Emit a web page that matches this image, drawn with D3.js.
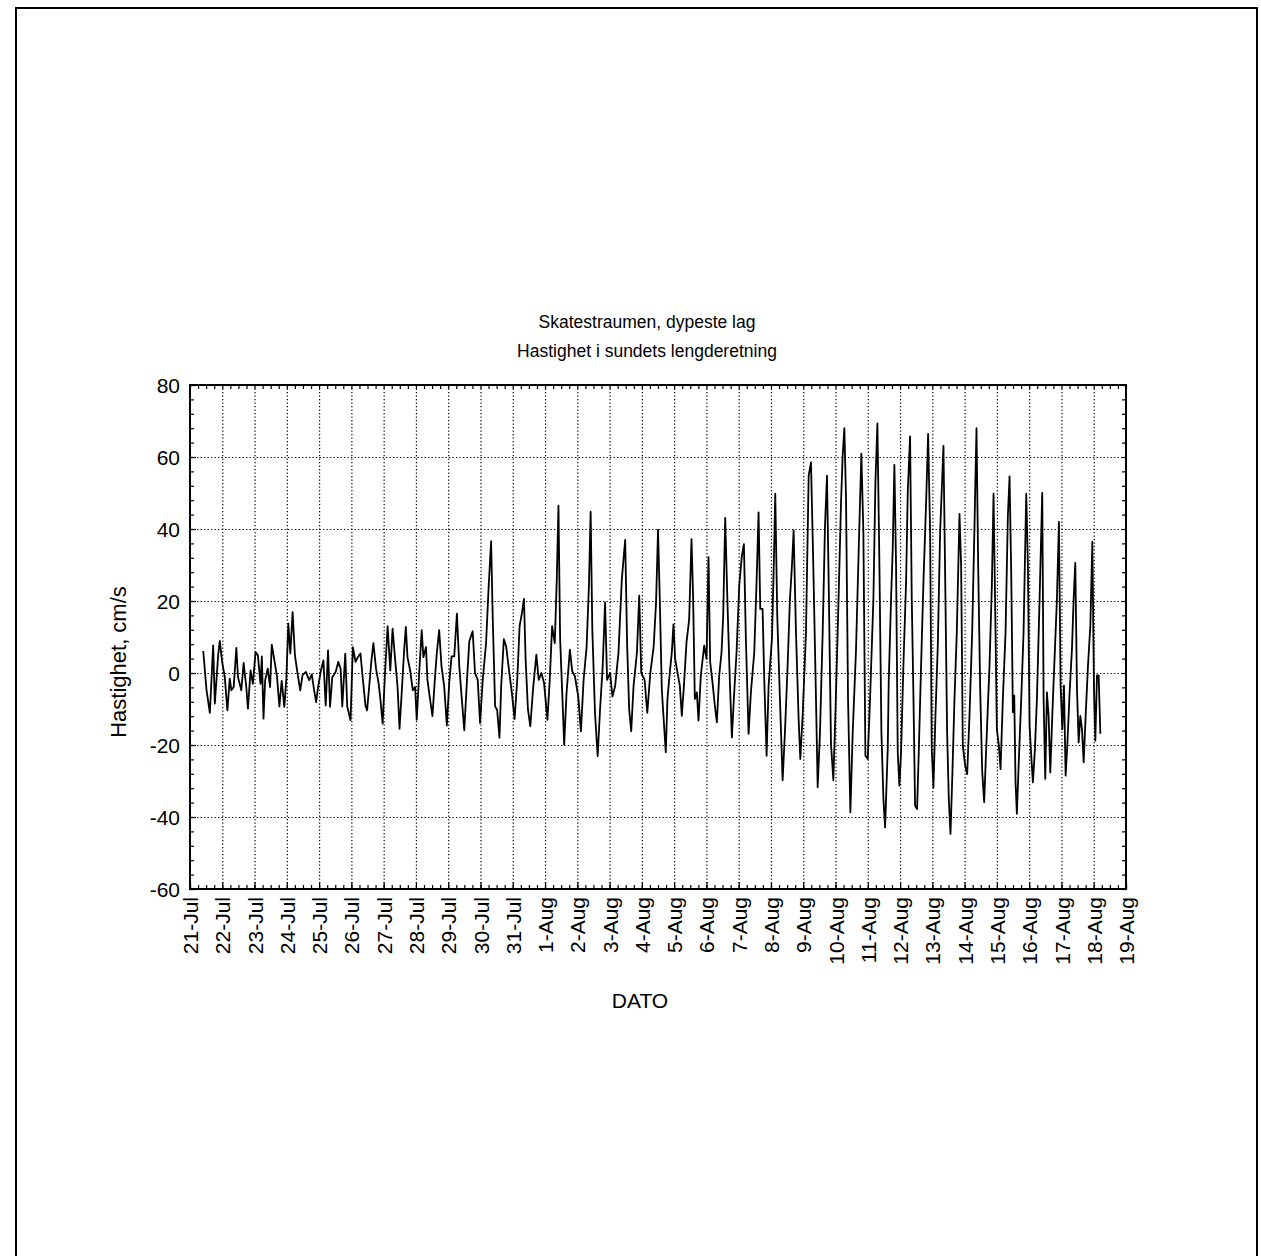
<!DOCTYPE html>
<html lang="no">
<head>
<meta charset="UTF-8">
<title>Skatestraumen</title>
<script src="https://d3js.org/d3.v7.min.js"></script>
<style>
  body { margin: 0; background: #fff; }
  svg { display: block; font-family: "Liberation Sans", Arial, sans-serif; }
  .grid line { stroke: #000; stroke-width: 1.2; stroke-dasharray: 1.3 2.2; }
  .grid path { display: none; }
  .minor path { display: none; }
  .minor line, .major line { stroke: #000; stroke-width: 1.2; }
  .major path { display: none; }
  .major text { font-size: 21px; fill: #000; }
</style>
</head>
<body>
<script>
// dager etter 21-Jul kl 00 og hastighet (cm/s)
var tid = [0.410,0.513,0.615,0.718,0.769,0.872,0.923,0.995,1.077,1.159,1.231,1.282,1.354,1.436,1.487,1.590,1.662,1.744,1.795,1.877,1.949,2.031,2.103,2.185,2.226,2.277,2.328,2.410,2.482,2.533,2.615,2.697,2.769,2.841,2.923,2.985,3.046,3.108,3.179,3.251,3.333,3.415,3.487,3.590,3.692,3.774,3.846,3.908,3.969,4.051,4.133,4.205,4.277,4.338,4.410,4.513,4.595,4.667,4.718,4.810,4.872,4.974,5.046,5.128,5.200,5.282,5.354,5.436,5.487,5.559,5.621,5.682,5.764,5.846,5.897,5.969,6.041,6.123,6.205,6.277,6.349,6.431,6.492,6.564,6.636,6.687,6.738,6.821,6.903,6.974,7.026,7.108,7.179,7.231,7.313,
  7.356,7.439,7.512,7.585,7.647,7.720,7.792,7.875,7.958,8.031,8.104,8.187,8.270,8.343,8.415,8.498,8.582,8.654,8.758,8.831,8.914,8.987,9.070,9.173,9.256,9.329,9.381,9.454,9.516,9.589,9.641,9.724,9.796,9.869,9.973,10.056,10.139,10.212,10.285,10.347,10.399,10.471,10.544,10.627,10.731,10.804,10.887,10.970,11.074,11.146,11.219,11.302,11.364,11.416,11.468,11.541,11.593,11.666,11.770,11.842,11.925,12.029,12.112,12.195,12.289,12.361,12.413,12.465,12.548,12.631,12.704,12.787,12.860,12.922,13.016,13.088,13.171,13.275,13.379,13.483,13.545,13.607,13.670,13.742,13.846,13.919,13.981,14.085,14.168,14.262,14.366,14.439,14.501,
  14.555,14.617,14.659,14.741,14.793,14.866,14.928,14.979,15.031,15.103,15.176,15.238,15.310,15.383,15.465,15.538,15.589,15.641,15.703,15.755,15.827,15.931,16.003,16.065,16.117,16.189,16.262,16.324,16.396,16.468,16.520,16.582,16.655,16.727,16.789,16.861,16.934,17.017,17.099,17.161,17.223,17.306,17.378,17.482,17.554,17.616,17.668,17.740,17.792,17.865,17.927,18.030,18.092,18.133,18.195,18.278,18.361,18.433,18.516,18.588,18.650,18.702,18.775,18.857,18.909,18.981,19.085,19.168,19.240,19.312,19.395,19.447,19.519,19.602,19.674,19.736,19.788,19.860,19.933,19.995,20.067,20.171,20.222,20.274,20.326,20.388,20.460,20.533,20.636,20.719,20.801,20.863,20.926,20.998,21.070,21.174,21.236,21.298,21.360,21.422,21.484,21.536,21.618,
  21.648,21.721,21.772,21.824,21.876,21.928,21.979,22.031,22.103,22.186,22.238,22.310,22.362,22.414,22.465,22.527,22.579,22.651,22.724,22.807,22.869,22.931,22.982,23.034,23.096,23.169,23.241,23.344,23.406,23.458,23.510,23.562,23.613,23.686,23.758,23.841,23.892,23.944,24.017,24.079,24.151,24.234,24.306,24.368,24.420,24.482,24.544,24.606,24.668,24.771,24.844,24.896,24.958,24.999,25.061,25.113,25.185,25.268,25.340,25.392,25.444,25.495,25.537,25.578,25.619,25.681,25.754,25.826,25.909,25.961,26.012,26.064,26.116,26.178,26.240,26.323,26.405,26.447,26.498,26.550,26.602,26.654,26.716,26.798,26.860,26.922,26.974,27.026,27.078,27.129,27.181,27.253,27.326,27.378,27.429,27.481,27.533,27.585,27.636,27.688,27.750,27.822,27.895,27.957,28.008,28.050,28.101,28.153,28.205];

var hastighet = [6.1,-4.8,-11.1,7.7,-8.5,4.9,8.9,3.1,-1.1,-10.4,-1.6,-4.8,-3.9,7.0,-1.1,-4.8,2.8,-3.9,-9.9,0.7,-3.0,5.8,4.9,-3.0,4.6,-12.7,-2.0,1.2,-3.9,7.9,3.5,-1.1,-9.3,-2.2,-9.4,-1.6,13.7,5.4,16.9,4.9,-0.2,-4.8,-0.6,0.3,-2.0,-0.4,-4.8,-8.1,-3.9,0.5,3.5,-9.0,6.3,-9.4,-1.1,0.3,3.1,1.2,-9.3,5.4,-9.4,-13.1,7.2,3.1,4.4,5.4,-1.6,-9.0,-10.4,-3.0,3.5,8.3,1.2,-3.0,-7.1,-14.1,-0.2,13.0,0.7,12.3,4.4,-3.9,-15.5,-4.8,6.5,12.8,4.4,0.7,-4.8,-3.9,-13.0,1.2,11.9,4.4,7.2,
  -1.9,-7.4,-12.0,-1.9,5.6,11.9,1.9,-3.7,-14.6,-2.8,4.6,4.6,16.5,1.9,-6.5,-15.9,-1.9,8.8,11.6,0,-1.9,-13.9,-1.9,8.3,24.5,36.6,14.8,-9.3,-10.2,-18.0,-3.7,9.4,7.4,1.9,-5.6,-12.8,-1.9,13.0,16.7,20.6,3.7,-10.2,-14.8,-4.6,5.1,-1.9,0,-2.8,-13.0,-1.9,13.0,8.3,26.0,46.5,9.3,-7.4,-19.9,-5.6,6.5,0.5,-0.9,-6.5,-16.2,-1.9,7.4,24.5,44.8,12.0,-11.1,-23.1,-10.2,1.9,19.6,-1.9,0,-6.5,-3.7,5.6,26.0,37.0,7.4,-10.2,-16.2,-3.7,5.6,21.5,0,-1.9,-11.1,0,7.4,19.4,39.8,
  20.6,-4.4,-10.5,-22.0,-7.2,0.2,5.7,13.5,3.9,0.2,-3.5,-11.9,-2.6,8.5,14.8,37.2,20.6,-7.2,-5.4,-13.2,-0.7,7.6,3.9,32.2,3.0,-2.6,-9.1,-13.7,-0.7,5.7,15.9,43.1,18.7,-2.6,-17.9,-5.4,5.7,24.3,32.6,35.8,9.4,-16.9,-5.4,5.7,25.2,44.6,17.8,17.8,-1.7,-23.0,-3.5,9.4,31.7,49.8,15.9,-7.2,-29.8,-16.5,2.0,20.6,29.8,39.6,11.3,-12.8,-23.9,-11.9,11.3,54.8,58.5,29.8,-7.2,-31.7,-16.5,11.3,40.9,54.8,25.2,-19.7,-29.8,-11.9,11.3,47.4,60.4,68.0,48.3,-7.2,-38.7,-16.5,6.7,34.4,60.9,39.1,-23.0,-23.9,-7.2,20.6,52.9,69.3,30.0,-16.5,-35.0,-42.9,-21.1,
  -2.6,20.6,34.4,57.8,29.8,-22.0,-31.3,-22.0,2.0,25.2,50.2,65.7,20.6,-6.3,-36.9,-37.8,-22.0,2.0,25.2,47.4,66.4,39.1,-21.1,-31.8,-11.9,7.6,39.1,63.1,20.6,-16.5,-35.0,-44.7,-30.4,-7.2,11.3,44.2,29.8,-20.2,-25.7,-28.1,-11.9,11.3,40.9,68.0,29.8,-4.4,-27.2,-35.9,-21.1,2.0,24.3,49.8,11.3,-15.6,-20.2,-26.7,-7.2,11.3,43.7,54.6,27.8,-10.9,-6.3,-30.4,-39.1,-23.9,-7.2,11.3,49.8,29.8,-14.6,-23.0,-30.4,-21.1,-7.2,20.6,50.0,-7.2,-29.4,-5.4,-11.9,-27.6,-11.9,6.7,20.6,42.0,-3.5,-15.6,-3.5,-28.5,-20.2,-5.4,6.7,20.6,30.6,-4.4,-19.3,-11.9,-15.6,-24.8,-11.9,2.0,13.1,36.5,-4.4,-18.8,-0.7,-0.7,-16.9];

var datoEtiketter = ["21-Jul","22-Jul","23-Jul","24-Jul","25-Jul","26-Jul","27-Jul","28-Jul","29-Jul","30-Jul","31-Jul",
  "1-Aug","2-Aug","3-Aug","4-Aug","5-Aug","6-Aug","7-Aug","8-Aug","9-Aug","10-Aug","11-Aug","12-Aug","13-Aug","14-Aug",
  "15-Aug","16-Aug","17-Aug","18-Aug","19-Aug"];
var yVerdier = [-60, -40, -20, 0, 20, 40, 60, 80];
var tittel = ["Skatestraumen, dypeste lag", "Hastighet i sundets lengderetning"];

var W = 1261, H = 1256;
var marg = { v: 190, h: 1126, o: 385, u: 889 };
var w = marg.h - marg.v, h = marg.u - marg.o;

var svg = d3.select("body").append("svg").attr("width", W).attr("height", H);

// sidekant fra skannet ark
svg.append("path")
  .attr("d", "M16,1270 V8 H1257 V1270")
  .attr("fill", "none").attr("stroke", "#000").attr("stroke-width", 2);

var x = d3.scaleLinear().domain([0, datoEtiketter.length - 1]).range([0, w]);
var y = d3.scaleLinear().domain([-60, 80]).range([h, 0]);

var g = svg.append("g").attr("transform", "translate(" + marg.v + "," + marg.o + ")");

var dager = d3.range(datoEtiketter.length);

// rutenett
g.append("g").attr("class", "grid")
  .call(d3.axisBottom(x).tickValues(dager.slice(1, -1)).tickSize(h).tickFormat(""));
g.append("g").attr("class", "grid")
  .call(d3.axisLeft(y).tickValues(yVerdier.slice(1, -1)).tickSize(-w).tickFormat(""));

// små merker innover
var smaaX = d3.range(0, 29.01, 0.25);
var smaaY = d3.range(-60, 80.01, 4);
g.append("g").attr("class", "minor").attr("transform", "translate(0," + h + ")")
  .call(d3.axisBottom(x).tickValues(smaaX).tickSizeInner(-4).tickSizeOuter(0).tickFormat(""));
g.append("g").attr("class", "minor")
  .call(d3.axisTop(x).tickValues(smaaX).tickSizeInner(-4).tickSizeOuter(0).tickFormat(""));
g.append("g").attr("class", "minor")
  .call(d3.axisLeft(y).tickValues(smaaY).tickSizeInner(-4).tickSizeOuter(0).tickFormat(""));
g.append("g").attr("class", "minor").attr("transform", "translate(" + w + ",0)")
  .call(d3.axisRight(y).tickValues(smaaY).tickSizeInner(-4).tickSizeOuter(0).tickFormat(""));

// y-akse tall (vanlig bindestrek som minus)
g.append("g").attr("class", "major")
  .call(d3.axisLeft(y).tickValues(yVerdier).tickSizeInner(-6).tickSizeOuter(0).tickPadding(10)
    .tickFormat(function(d) { return String(d); }))
  .selectAll("text").attr("dy", "0.36em");

// x-akse datoer, rotert
var xa = g.append("g").attr("class", "major").attr("transform", "translate(0," + h + ")")
  .call(d3.axisBottom(x).tickValues(dager).tickSizeInner(-7).tickSizeOuter(0)
    .tickFormat(function(d) { return datoEtiketter[d]; }));
xa.selectAll("text")
  .attr("transform", "rotate(-90)")
  .attr("text-anchor", "end")
  .attr("x", -8).attr("y", 0).attr("dy", "0.36em");

// kurven
var punkter = tid.map(function(t, i) { return [t, hastighet[i]]; });
g.append("path")
  .datum(punkter)
  .attr("fill", "none")
  .attr("stroke", "#000")
  .attr("stroke-width", 1.8)
  .attr("stroke-linejoin", "round")
  .attr("d", d3.line().x(function(d) { return x(d[0]); }).y(function(d) { return y(d[1]); }));

// ramme
g.append("rect").attr("width", w).attr("height", h)
  .attr("fill", "none").attr("stroke", "#000").attr("stroke-width", 2);

// tekster
svg.selectAll("text.tittel").data(tittel).enter().append("text")
  .attr("class", "tittel")
  .attr("x", 647).attr("y", function(d, i) { return 328 + i * 29; })
  .attr("text-anchor", "middle").attr("font-size", 17.5)
  .text(function(d) { return d; });

svg.append("text")
  .attr("transform", "translate(126,662) rotate(-90)")
  .attr("text-anchor", "middle").attr("font-size", 22)
  .text("Hastighet, cm/s");

svg.append("text")
  .attr("x", 640).attr("y", 1008)
  .attr("text-anchor", "middle").attr("font-size", 21)
  .text("DATO");
</script>
</body>
</html>
